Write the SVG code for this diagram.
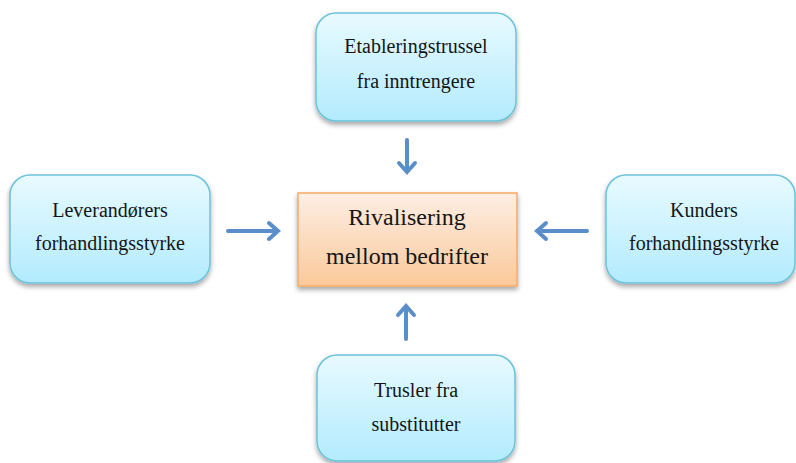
<svg xmlns="http://www.w3.org/2000/svg" width="796" height="463" viewBox="0 0 796 463">
<defs>
<linearGradient id="gBlue" x1="0" y1="0" x2="0" y2="1">
<stop offset="0" stop-color="#e8faff"/>
<stop offset="1" stop-color="#b2ebfd"/>
</linearGradient>
<linearGradient id="gOrange" x1="0" y1="0" x2="0" y2="1">
<stop offset="0" stop-color="#fdeee4"/>
<stop offset="1" stop-color="#fbc99a"/>
</linearGradient>
<filter id="sh" x="-10%" y="-10%" width="120%" height="130%">
<feDropShadow dx="0" dy="3" stdDeviation="2.5" flood-color="#000" flood-opacity="0.35"/>
</filter>
</defs>
<style>
.blue{fill:url(#gBlue);stroke:#6cc2da;stroke-width:1.5;filter:url(#sh)}
.orange{fill:url(#gOrange);stroke:#f7aa66;stroke-width:1.5;filter:url(#sh)}
text{font-family:'Liberation Serif','Times New Roman',serif;fill:#151515;text-anchor:middle}
.t{font-size:20px}
.tc{font-size:24px}
.ar{stroke:#5a8ecb;stroke-width:4;fill:none;stroke-linecap:round;stroke-linejoin:miter}
</style>
<rect width="796" height="463" fill="#ffffff"/>
<g id="top">
<rect class="blue" x="316" y="13" width="200" height="108" rx="20"/>
<text class="t" x="416" y="53">Etableringstrussel</text>
<text class="t" x="416" y="88">fra inntrengere</text>
</g>
<g id="left">
<rect class="blue" x="10" y="175" width="200" height="108" rx="20"/>
<text class="t" x="110" y="217">Leverandørers</text>
<text class="t" x="110" y="250">forhandlingsstyrke</text>
</g>
<g id="center">
<rect class="orange" x="298" y="193" width="219" height="93"/>
<text class="tc" x="407" y="225">Rivalisering</text>
<text class="tc" x="407" y="264">mellom bedrifter</text>
</g>
<g id="right">
<rect class="blue" x="606" y="175" width="189" height="108" rx="20"/>
<text class="t" x="704" y="217">Kunders</text>
<text class="t" x="704" y="250">forhandlingsstyrke</text>
</g>
<g id="bottom">
<rect class="blue" x="317" y="355" width="198" height="106" rx="20"/>
<text class="t" x="416" y="397">Trusler fra</text>
<text class="t" x="416" y="431">substitutter</text>
</g>
<g id="connectors">
<path class="ar" d="M407 140 V172 M399 163 L407 172 L415 163"/>
<path class="ar" d="M228 231 H278 M269 223 L278 231 L269 239"/>
<path class="ar" d="M587 231 H537 M546 223 L537 231 L546 239"/>
<path class="ar" d="M406 339 V306 M398 315 L406 306 L414 315"/>
</g>
</svg>
